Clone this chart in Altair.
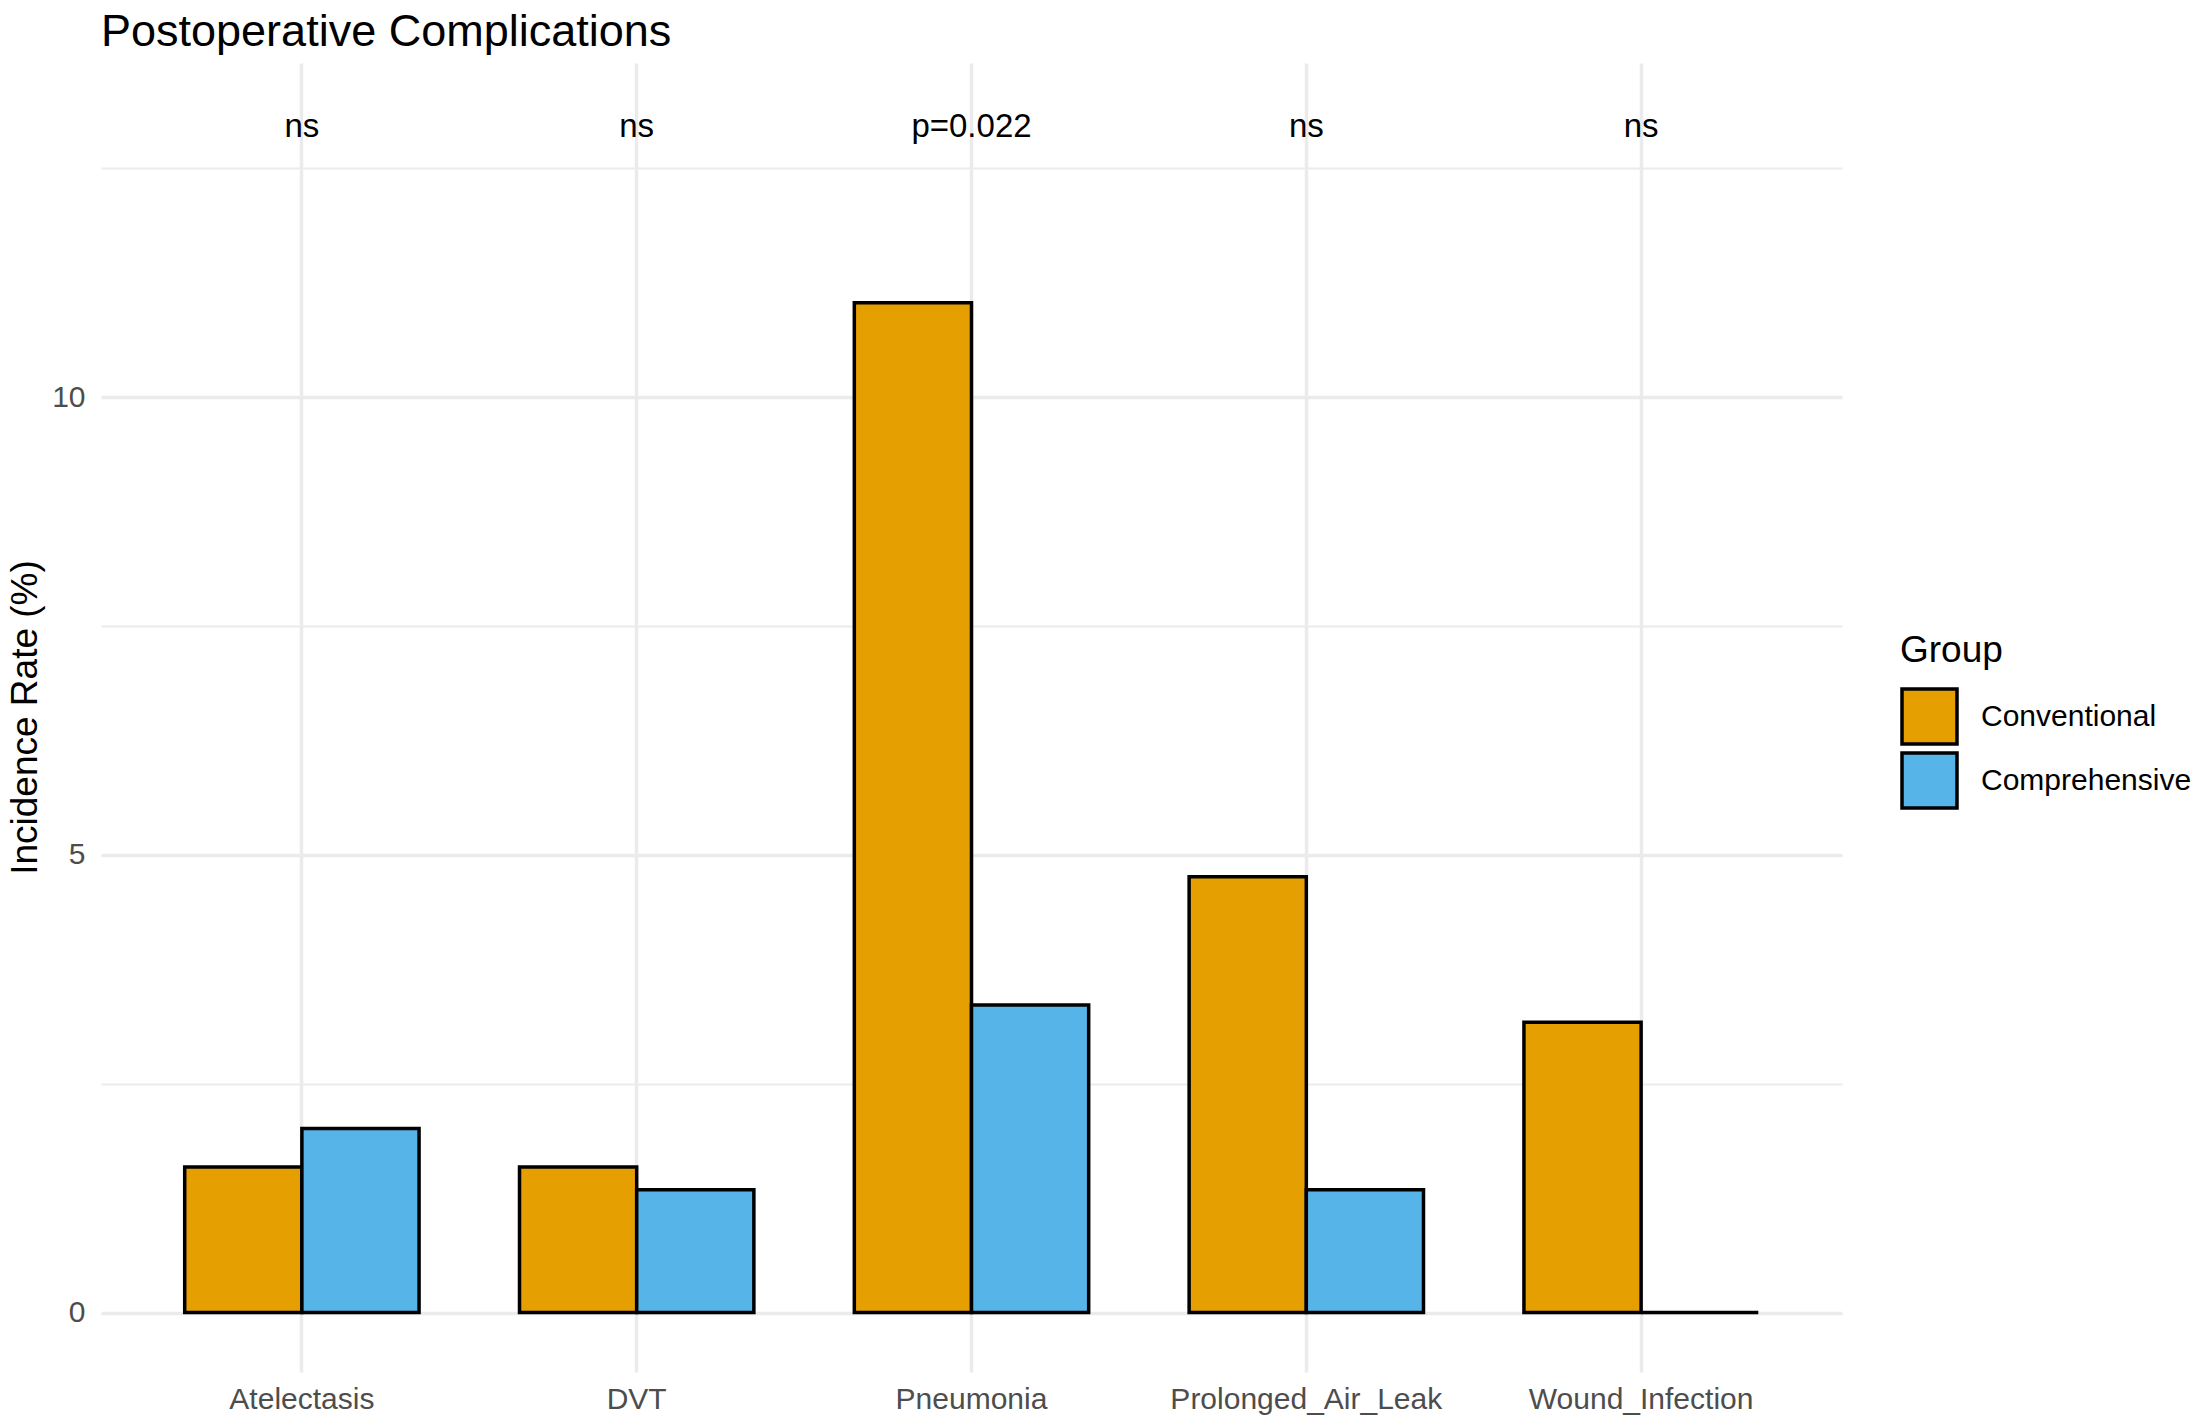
import altair as alt
import pandas as pd

categories = ["Atelectasis", "DVT", "Pneumonia", "Prolonged_Air_Leak", "Wound_Infection"]
groups = ["Conventional", "Comprehensive"]
conventional = [1.59, 1.59, 11.03, 4.76, 3.17]
comprehensive = [2.01, 1.34, 3.36, 1.34, 0.0]
sig_labels = ["ns", "ns", "p=0.022", "ns", "ns"]
label_level = 13
y_ticks = [0, 2.5, 5, 7.5, 10, 12.5]
colors = ["#E69F00", "#56B4E9"]

rows = []
for c, a, b in zip(categories, conventional, comprehensive):
    rows.append({"Complication": c, "Group": "Conventional", "Rate": a})
    rows.append({"Complication": c, "Group": "Comprehensive", "Rate": b})
df = pd.DataFrame(rows)
lab = pd.DataFrame({"Complication": categories, "label": sig_labels})

FONT = "Liberation Sans"

x_enc = alt.X(
    "Complication:N",
    sort=categories,
    scale=alt.Scale(paddingInner=0.3, paddingOuter=0.25),
    axis=alt.Axis(title=None, labelAngle=0, labelPadding=12, labelFontSize=30,
                  labelColor="#4D4D4D", grid=True, gridColor="#EBEBEB", gridWidth=3.5,
                  domain=False, ticks=False, tickSize=0, labelFont=FONT, labelLimit=0),
)
y_scale = alt.Scale(domain=[-0.65, 13.65], nice=False, zero=False)

bars = alt.Chart(df).mark_bar(stroke="black", strokeWidth=3.5).encode(
    x=x_enc,
    xOffset=alt.XOffset("Group:N", sort=groups),
    y=alt.Y(
        "Rate:Q",
        scale=y_scale,
        axis=alt.Axis(
            title="Incidence Rate (%)",
            values=y_ticks,
            format="~g",
            labelExpr="datum.value % 5 == 0 ? datum.label : ''",
            grid=True,
            gridColor="#EBEBEB",
            gridWidth={"condition": {"test": "datum.value % 5 == 0", "value": 3.5}, "value": 2},
            domain=False, ticks=False, tickSize=0,
            labelPadding=16, labelFontSize=30, labelColor="#4D4D4D", labelFont=FONT,
            titleFontSize=37, titleFontWeight="normal", titleColor="black", titleFont=FONT,
            titleX=-57, titleY=654,
        ),
    ),
    y2=alt.datum(0),
    color=alt.Color(
        "Group:N",
        sort=groups,
        scale=alt.Scale(domain=groups, range=colors),
        legend=alt.Legend(
            title="Group", orient="none", legendX=1799, legendY=570,
            titleFontSize=37, titleFontWeight="normal", titleColor="black", titleFont=FONT,
            titlePadding=17, labelFontSize=30, labelColor="black", labelFont=FONT,
            labelOffset=22, labelLimit=0, symbolType="square", symbolSize=3025,
            symbolStrokeColor="black", symbolStrokeWidth=3.5, symbolOpacity=1,
            rowPadding=-11, padding=0,
        ),
    ),
)

texts = alt.Chart(lab).mark_text(fontSize=33, font=FONT, color="black", baseline="middle", dy=4).encode(
    x=alt.X("Complication:N", sort=categories),
    y=alt.datum(label_level),
    text="label:N",
)

chart = alt.layer(bars, texts).properties(
    width=1741,
    height=1309,
    title=alt.TitleParams("Postoperative Complications", anchor="start", frame="group",
                          fontSize=45, fontWeight="normal", color="black",
                          font=FONT, offset=8),
    autosize=alt.AutoSizeParams(type="none"),
    padding={"left": 93, "top": 55, "right": 350, "bottom": 44},
).configure(background="white", view=alt.ViewConfig(stroke=None))

chart.save("out.html", embed_options={"renderer": "svg", "actions": False})
